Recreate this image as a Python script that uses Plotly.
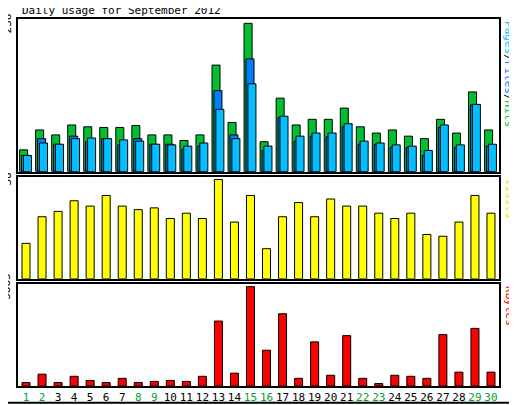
import plotly.graph_objects as go

days = list(range(1, 31))
hits = [35, 67, 59, 75, 72, 71, 71, 74, 59, 59, 50, 59, 171, 79, 238, 48, 118, 75, 84, 84,
        102, 72, 62, 67, 57, 53, 84, 62, 128, 67]
files = [26, 53, 44, 57, 48, 53, 43, 53, 44, 44, 36, 41, 130, 59, 181, 34, 87, 49, 57, 56,
         72, 44, 44, 39, 39, 26, 71, 39, 107, 41]
pages = [26, 46, 44, 53, 54, 53, 51, 49, 44, 43, 41, 46, 100, 53, 141, 41, 89, 57, 62, 62,
         77, 49, 46, 43, 41, 34, 75, 43, 108, 44]
visits = [20, 35, 38, 44, 41, 47, 41, 39, 40, 34, 37, 34, 56, 32, 47, 17, 35, 43, 35, 45,
          41, 41, 37, 34, 37, 25, 24, 32, 47, 37]
kbytes = [136, 462, 136, 380, 217, 136, 299, 136, 177, 217, 177, 380, 2540, 502, 3885, 1399,
          2825, 299, 1725, 421, 1969, 299, 95, 421, 380, 299, 2010, 543, 2254, 543]
weekend = {1, 2, 8, 9, 15, 16, 22, 23, 29, 30}
tick_labels = [f'<span style="color:#00A030">{d}</span>' if d in weekend else str(d) for d in days]

F = "DejaVu Sans Mono"
line = dict(color="black", width=1)
fig = go.Figure()
fig.add_trace(go.Bar(x=days, y=hits, width=0.5, offset=-0.4, marker=dict(color="#00C030", line=line), xaxis="x", yaxis="y"))
fig.add_trace(go.Bar(x=days, y=files, width=0.5, offset=-0.28, marker=dict(color="#0080FF", line=line), xaxis="x", yaxis="y"))
fig.add_trace(go.Bar(x=days, y=pages, width=0.5, offset=-0.16, marker=dict(color="#00C0FF", line=line), xaxis="x", yaxis="y"))
fig.add_trace(go.Bar(x=days, y=visits, width=0.5, marker=dict(color="#FFFF00", line=line), xaxis="x2", yaxis="y2"))
fig.add_trace(go.Bar(x=days, y=kbytes, width=0.5, marker=dict(color="#FF0000", line=line), xaxis="x3", yaxis="y3"))

ax = dict(range=[0.5, 30.5], showline=True, mirror=True, linecolor="black", linewidth=2,
          showgrid=False, zeroline=False, ticks="", fixedrange=True)
fig.update_layout(
    width=517, height=405, barmode="overlay", showlegend=False,
    margin=dict(l=10, r=26, t=9, b=26),
    paper_bgcolor="white", plot_bgcolor="white",
    font=dict(family=F, size=11, color="black"),
    xaxis=dict(ax, showticklabels=False, anchor="y"),
    xaxis2=dict(ax, showticklabels=False, anchor="y2"),
    xaxis3=dict(ax, anchor="y3", tickmode="array", tickvals=days, ticktext=tick_labels,
                tickfont=dict(family=F, size=11)),
    yaxis=dict(ax, range=[0, 245], domain=[0.584, 1.0], showticklabels=False),
    yaxis2=dict(ax, range=[0, 57.5], domain=[0.292, 0.570], showticklabels=False),
    yaxis3=dict(ax, range=[0, 3990], domain=[0.0, 0.278], showticklabels=False),
    annotations=[
        dict(text="Daily usage for September 2012", x=2 / 481, y=1.0, xref="paper", yref="paper",
             xanchor="left", yanchor="bottom", showarrow=False, font=dict(size=11)),
        dict(text="238", x=-0.005, y=238, xref="paper", yref="y", textangle=-90,
             xanchor="right", yanchor="middle", showarrow=False),
        dict(text="56", x=-0.005, y=56, xref="paper", yref="y2", textangle=-90,
             xanchor="right", yanchor="middle", showarrow=False),
        dict(text="3885", x=-0.005, y=3885, xref="paper", yref="y3", textangle=-90,
             xanchor="right", yanchor="middle", showarrow=False),
        dict(text='<span style="color:#00C0FF">Pages</span>/<span style="color:#0080FF">Files</span>/<span style="color:#00C030">Hits</span>',
             x=1.003, y=1.0, xref="paper", yref="paper", textangle=90,
             xanchor="left", yanchor="top", showarrow=False),
        dict(text="Visits", x=1.003, y=0.570, xref="paper", yref="paper", textangle=90,
             xanchor="left", yanchor="top", showarrow=False, font=dict(color="#E8E800")),
        dict(text="KBytes", x=1.003, y=0.278, xref="paper", yref="paper", textangle=90,
             xanchor="left", yanchor="top", showarrow=False, font=dict(color="#FF0000")),
    ],
    shapes=[dict(type="rect", xref="paper", yref="paper", x0=-17 / 481, x1=1 + 16 / 481,
                 y0=-17 / 370, y1=1 + 16 / 370, line=dict(color="black", width=2))],
)
fig.write_html("out.html")
